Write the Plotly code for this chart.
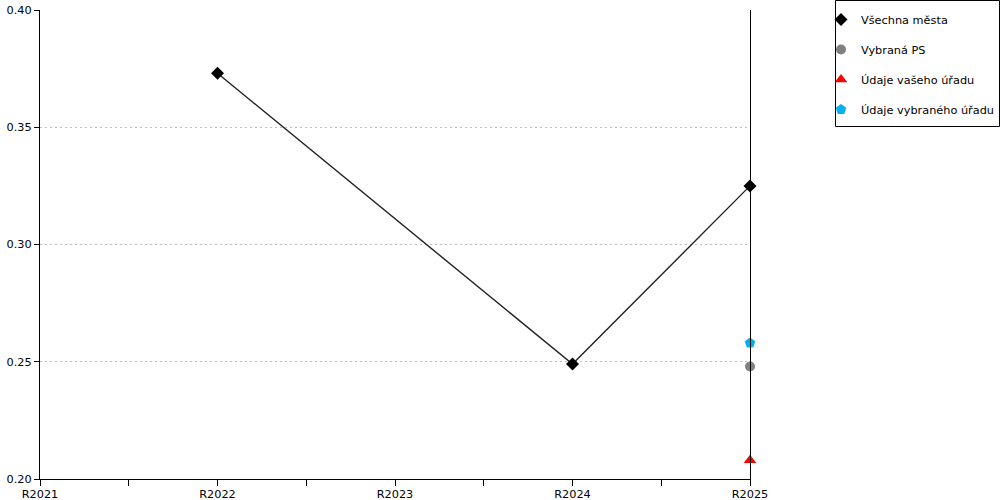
import plotly.graph_objects as go

categories = ["R2021", "R2022", "R2023", "R2024", "R2025"]

vsechna_mesta = [None, 0.373, None, 0.249, 0.325]
vybrana_ps = [None, None, None, None, 0.248]
udaje_vaseho = [None, None, None, None, 0.208]
udaje_vybraneho = [None, None, None, None, 0.258]

y_ticks = [0.20, 0.25, 0.30, 0.35, 0.40]

xpos = list(range(len(categories)))

FONT = "DejaVu Sans"

fig = go.Figure()
# connecting line (not in legend)
fig.add_trace(go.Scatter(
    x=xpos, y=vsechna_mesta, mode="lines", connectgaps=True, showlegend=False,
    line=dict(color="#222222", width=1.4), cliponaxis=False, hoverinfo="skip",
))
fig.add_trace(go.Scatter(
    x=xpos, y=vsechna_mesta, name="Všechna města", mode="markers",
    legendgroup="a", cliponaxis=False,
    marker=dict(symbol="diamond", size=10, color="#000000"),
))
fig.add_trace(go.Scatter(
    x=xpos, y=vybrana_ps, name="Vybraná PS", mode="markers", legendgroup="b",
    cliponaxis=False,
    marker=dict(symbol="circle", size=10, color="#808080"),
))
fig.add_trace(go.Scatter(
    x=xpos, y=udaje_vaseho, name="Údaje vašeho úřadu", mode="markers", legendgroup="c",
    cliponaxis=False,
    marker=dict(symbol="triangle-up", size=11, color="#FF0000"),
))
fig.add_trace(go.Scatter(
    x=xpos, y=udaje_vybraneho, name="Údaje vybraného úřadu", mode="markers", legendgroup="d",
    cliponaxis=False,
    marker=dict(symbol="pentagon", size=11, color="#00B0F0"),
))

tickvals = [i * 0.5 for i in range(2 * len(categories) - 1)]
ticktext = [categories[int(v)] if v == int(v) else "" for v in tickvals]

fig.update_layout(
    width=1000, height=500,
    margin=dict(l=40, r=250, t=10, b=21, pad=0, autoexpand=False),
    paper_bgcolor="white", plot_bgcolor="white",
    font=dict(family=FONT, size=12, color="#000000"),
    showlegend=True,
    legend=dict(
        x=(821 - 40) / 710, y=(479 - 5) / 469, xanchor="left", yanchor="top",
        borderwidth=0, bgcolor="rgba(0,0,0,0)",
        font=dict(family=FONT, size=11.3),
        traceorder="grouped", tracegroupgap=11,
        itemwidth=30,
    ),
    xaxis=dict(
        range=[0, len(categories) - 1], tickmode="array",
        tickvals=tickvals, ticktext=ticktext,
        showline=True, linecolor="#000000", linewidth=1,
        ticks="outside", ticklen=6, tickcolor="#000000",
        ticklabelstandoff=-2,
        showgrid=False, zeroline=False, automargin=False,
        tickfont=dict(family=FONT, size=11.3),
    ),
    yaxis=dict(
        range=[0.20, 0.40], tickmode="array", tickvals=y_ticks,
        ticktext=[f"{v:.2f}" for v in y_ticks],
        showline=True, linecolor="#000000", linewidth=1,
        ticks="outside", ticklen=5, tickcolor="#000000",
        showgrid=True, gridcolor="#c0c0c0", griddash="2px,3px", gridwidth=1,
        zeroline=False, automargin=False,
        tickfont=dict(family=FONT, size=11.3),
    ),
    shapes=[
        dict(type="line", xref="paper", yref="paper",
             x0=1 + 0.5 / 710, x1=1 + 0.5 / 710, y0=-0.013, y1=1,
             line=dict(color="#000000", width=1)),
        dict(type="rect", xref="paper", yref="paper",
             x0=(835.5 - 40) / 710, x1=(999.5 - 40) / 710,
             y0=(479 - 126.5) / 469, y1=(479 - 0.5) / 469,
             line=dict(color="#000000", width=1), fillcolor="rgba(0,0,0,0)"),
    ],
)

fig.write_html("out.html",
               config={"displayModeBar": False},
               post_script="document.body.style.margin='0';document.body.style.padding='0';")
